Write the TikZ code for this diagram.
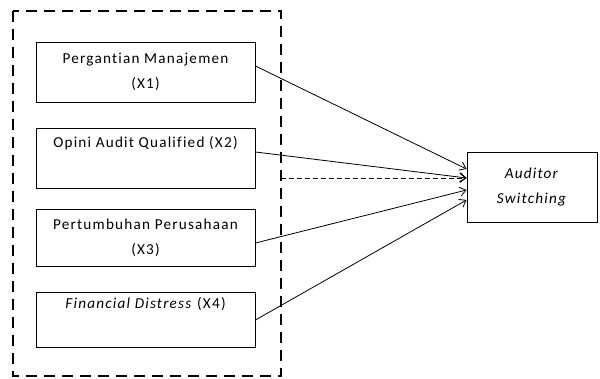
\documentclass[tikz,border=0pt]{standalone}
\usepackage{fontspec}
\setmainfont{Carlito}[LetterSpace=8,Ligatures={NoCommon}]
\usetikzlibrary{arrows.meta}
\begin{document}
\begin{tikzpicture}[x=1pt,y=-1pt,
  varbox/.style={draw, line width=0.9pt, minimum width=219pt, minimum height=#1, inner sep=0pt, align=center, font=\fontsize{15.2}{25}\selectfont},
  conn/.style={line width=0.8pt, -{Straight Barb[length=6pt,width=9pt]}},
  outer/.style={line width=2.8pt, dash pattern=on 11pt off 7pt}]
\useasboundingbox (0,0) rectangle (600,379);
\draw[outer] (13,11) rectangle (281,376);
\node[varbox=60pt] (x1) at (145.5,72) {Pergantian Manajemen\\(X1)};
\node[varbox=60pt] (x2) at (145.5,158) {Opini Audit Qualified (X2)\\\strut};
\node[varbox=57pt] (x3) at (145.5,237.5) {Pertumbuhan Perusahaan\\(X3)};
\node[varbox=55pt] (x4) at (145.5,319.5) {\textit{Financial Distress} (X4)\\\strut};
\node[varbox=70pt, minimum width=130pt] (y) at (532,187) {\textit{Auditor}\\\textit{Switching}};
\coordinate (d) at (281,178);
\draw[conn] (x1.east |- 0,66) -- (y.west |- 0,169);
\draw[conn] (x2.east |- 0,152) -- (y.west |- 0,178);
\draw[conn] (x3.east |- 0,243) -- (y.west |- 0,190);
\draw[conn] (x4.east |- 0,320) -- (y.west |- 0,200);
\draw[line width=0.8pt, dash pattern=on 5pt off 3pt, -{Straight Barb[length=6pt,width=9pt]}] (d) -- (y.west |- 0,178);
\end{tikzpicture}
\end{document}
